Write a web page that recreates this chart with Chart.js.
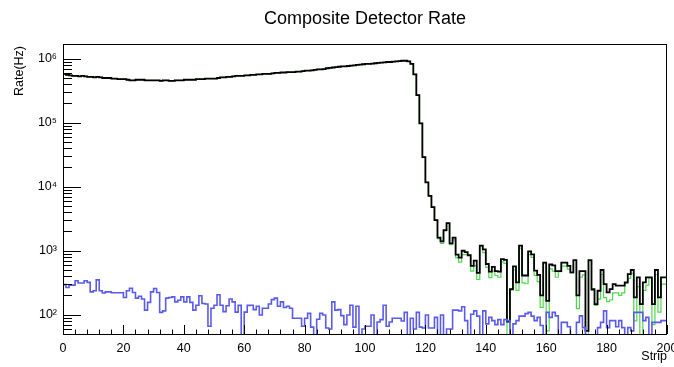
<!DOCTYPE html>
<html>
<head>
<meta charset="utf-8">
<script src="https://cdn.jsdelivr.net/npm/chart.js@4/dist/chart.umd.min.js"></script>
<style>
  html, body { margin: 0; padding: 0; background: #fff; }
  #wrap { width: 674px; height: 367px; position: relative; }
</style>
</head>
<body>
<div id="wrap"><canvas id="myChart"></canvas></div>
<script>
// rate per strip, one value per bin (strip 0..199); 40 = empty bin (below axis)
var totalRate = [
    40, 580000, 560000, 550000, 540000, 540000, 530000, 540000, 530000, 520000,
    520000, 510000, 520000, 510000, 500000, 500000, 500000, 490000, 490000, 480000,
    480000, 480000, 470000, 460000, 460000, 470000, 470000, 470000, 460000, 460000,
    460000, 460000, 460000, 450000, 460000, 460000, 450000, 450000, 460000, 460000,
    460000, 470000, 470000, 470000, 470000, 480000, 480000, 480000, 490000, 490000,
    490000, 490000, 500000, 510000, 510000, 520000, 520000, 530000, 540000, 540000,
    540000, 550000, 550000, 560000, 560000, 570000, 570000, 580000, 580000, 580000,
    590000, 600000, 600000, 610000, 610000, 620000, 620000, 620000, 630000, 630000,
    640000, 650000, 650000, 660000, 670000, 680000, 680000, 690000, 710000, 720000,
    730000, 740000, 750000, 760000, 760000, 770000, 780000, 790000, 800000, 810000,
    820000, 830000, 830000, 840000, 850000, 860000, 870000, 880000, 890000, 890000,
    900000, 910000, 920000, 930000, 930000, 910000, 830000, 570000, 270000, 98000,
    29000, 11700, 7200, 4800, 3000, 1600, 1400, 2100, 2700, 1300,
    1600, 870, 780, 1000, 950, 850, 580, 700, 450, 1200,
    1050, 620, 470, 560, 480, 470, 740, 720, 78, 250,
    570, 320, 1200, 410, 410, 980, 880, 490, 420, 200,
    650, 165, 610, 590, 480, 480, 650, 650, 580, 460,
    715, 200, 480, 480, 56, 715, 250, 147, 237, 500,
    300, 224, 252, 300, 284, 284, 284, 320, 432, 500,
    187, 383, 147, 320, 383, 383, 147, 500, 187, 383
];

var greenRate = [
    40, 580000, 560000, 550000, 540000, 540000, 530000, 540000, 530000, 520000,
    520000, 510000, 520000, 510000, 500000, 500000, 500000, 490000, 490000, 480000,
    480000, 480000, 470000, 460000, 460000, 470000, 470000, 470000, 460000, 460000,
    460000, 460000, 460000, 450000, 460000, 460000, 450000, 450000, 460000, 460000,
    460000, 470000, 470000, 470000, 470000, 480000, 480000, 480000, 490000, 490000,
    490000, 490000, 500000, 510000, 510000, 520000, 520000, 530000, 540000, 540000,
    540000, 550000, 550000, 560000, 560000, 570000, 570000, 580000, 580000, 580000,
    590000, 600000, 600000, 610000, 610000, 620000, 620000, 620000, 630000, 630000,
    640000, 650000, 650000, 660000, 670000, 680000, 680000, 690000, 710000, 720000,
    730000, 740000, 750000, 760000, 760000, 770000, 780000, 790000, 800000, 810000,
    820000, 830000, 830000, 840000, 850000, 860000, 870000, 880000, 890000, 890000,
    900000, 910000, 920000, 930000, 930000, 910000, 830000, 570000, 270000, 98000,
    29000, 11700, 7200, 4800, 3000, 1550, 1300, 2050, 2640, 1240,
    1480, 780, 665, 870, 870, 850, 480, 585, 355, 1200,
    935, 550, 380, 480, 410, 385, 670, 635, 40, 250,
    500, 240, 1100, 315, 305, 870, 785, 410, 330, 130,
    650, 56, 520, 480, 385, 470, 575, 575, 515, 450,
    700, 125, 385, 420, 40, 700, 240, 140, 175, 425,
    185, 160, 170, 220, 220, 200, 220, 310, 370, 445,
    80, 275, 40, 240, 290, 375, 70, 425, 110, 300
];

var blueRate = [
    40, 295, 267, 290, 290, 339, 313, 313, 339, 320,
    228, 237, 350, 237, 218, 228, 228, 220, 220, 220,
    220, 186, 237, 260, 223, 182, 194, 176, 118, 156,
    228, 257, 223, 109, 115, 182, 186, 190, 159, 168,
    190, 159, 190, 156, 118, 141, 198, 150, 147, 66,
    126, 141, 205, 141, 112, 138, 176, 159, 110, 140,
    40, 110, 140, 141, 120, 136, 99, 126, 126, 147,
    172, 182, 136, 159, 130, 136, 126, 88, 88, 88,
    66, 88, 105, 64, 40, 85, 105, 99, 62, 60,
    159, 118, 120, 97, 70, 99, 141, 64, 136, 40,
    60, 66, 66, 99, 40, 77, 84, 141, 66, 77,
    88, 88, 88, 80, 109, 40, 88, 60, 109, 64,
    62, 99, 62, 62, 91, 40, 99, 40, 60, 60,
    118, 118, 115, 133, 81, 40, 102, 115, 95, 40,
    115, 72, 91, 81, 70, 84, 70, 84, 81, 40,
    72, 81, 95, 95, 104, 109, 95, 81, 91, 68,
    40, 109, 91, 109, 96, 40, 76, 76, 65, 40,
    40, 76, 96, 63, 40, 40, 40, 40, 63, 76,
    115, 63, 81, 81, 65, 81, 63, 40, 63, 56,
    109, 109, 109, 81, 91, 40, 76, 76, 76, 81
];

var xTickLabels = [0, 20, 40, 60, 80, 100, 120, 140, 160, 180, 200];
var yDecades = [100, 1000, 10000, 100000, 1000000];
var yMin = 50, yMax = 1.7e6;
var nStrips = 200;

var sup = {'0':'\u2070','1':'\u00b9','2':'\u00b2','3':'\u00b3','4':'\u2074','5':'\u2075','6':'\u2076','7':'\u2077','8':'\u2078','9':'\u2079'};

// bin i drawn from x=i to x=i+1, plus closing point at the upper edge
function histPoints(vals) {
    var pts = [];
    for (var i = 0; i < vals.length; i++) pts.push({x: i, y: vals[i]});
    pts.push({x: vals.length, y: vals[vals.length - 1]});
    return pts;
}

var rootFrame = {
    id: 'rootFrame',
    afterDraw: function(chart) {
        var ctx = chart.ctx, a = chart.chartArea;
        var xs = chart.scales.x, ys = chart.scales.y;
        ctx.save();
        ctx.strokeStyle = '#000';
        ctx.lineWidth = 1;
        ctx.strokeRect(Math.round(a.left) + 0.5, Math.round(a.top) + 0.5,
                       Math.round(a.right - a.left) - 1, Math.round(a.bottom - a.top));
        ctx.beginPath();
        // x ticks, inward
        for (var v = 0; v <= nStrips; v += 4) {
            var px = Math.round(xs.getPixelForValue(v)) + 0.5;
            var len = (v % 20 === 0) ? 9 : 4.5;
            ctx.moveTo(px, a.bottom);
            ctx.lineTo(px, a.bottom - len);
        }
        // y ticks, inward
        for (var d = 10; d <= 1e6; d *= 10) {
            for (var m = 1; m <= 9; m++) {
                var val = m * d;
                if (val < yMin || val > yMax) continue;
                var py = Math.round(ys.getPixelForValue(val)) + 0.5;
                var l = (m === 1) ? 18 : 9;
                ctx.moveTo(a.left, py);
                ctx.lineTo(a.left + l, py);
            }
        }
        ctx.stroke();

        ctx.fillStyle = '#000';
        ctx.font = '18px "Liberation Sans", Arial, sans-serif';
        ctx.textAlign = 'center';
        ctx.textBaseline = 'middle';
        ctx.fillText('Composite Detector Rate', (a.left + a.right) / 2, 19);

        ctx.font = '12.5px "Liberation Sans", Arial, sans-serif';
        ctx.textAlign = 'right';
        ctx.fillText('Strip', a.right, 357);

        ctx.translate(20, a.top + 2);
        ctx.rotate(-Math.PI / 2);
        ctx.textAlign = 'right';
        ctx.fillText('Rate(Hz)', 0, 0);
        ctx.restore();
    }
};

var config = {
    type: 'line',
    data: {
        datasets: [
            {label: 'blue', data: histPoints(blueRate), borderColor: 'rgb(90, 90, 235)', borderWidth: 1.6},
            {label: 'total', data: histPoints(totalRate), borderColor: '#000', borderWidth: 1.8},
            {label: 'green', data: histPoints(greenRate), borderColor: 'rgb(80, 215, 80)', borderWidth: 1.2}
        ]
    },
    options: {
        responsive: false,
        animation: false,
        layout: {padding: {top: 44, right: 7, left: 0, bottom: 0}},
        elements: {
            point: {radius: 0},
            line: {stepped: 'after', tension: 0, fill: false}
        },
        plugins: {legend: {display: false}, tooltip: {enabled: false}, title: {display: false}},
        scales: {
            x: {
                type: 'linear', min: 0, max: nStrips,
                grid: {display: false, drawTicks: false},
                border: {display: false},
                afterBuildTicks: function(s) { s.ticks = xTickLabels.map(function(v) { return {value: v}; }); },
                afterFit: function(s) { s.height = 33; s.paddingLeft = 0; s.paddingRight = 0; },
                ticks: {
                    padding: 7, color: '#000', maxRotation: 0, autoSkip: false,
                    font: {family: '"Liberation Sans", Arial, sans-serif', size: 12.5}
                }
            },
            y: {
                type: 'logarithmic', min: yMin, max: yMax,
                grid: {display: false, drawTicks: false},
                border: {display: false},
                afterBuildTicks: function(s) { s.ticks = yDecades.map(function(v) { return {value: v}; }); },
                afterFit: function(s) { s.width = 63; s.paddingTop = 0; s.paddingBottom = 0; },
                ticks: {
                    padding: 6, color: '#000',
                    font: {family: '"Liberation Sans", Arial, sans-serif', size: 12.5},
                    callback: function(v) {
                        var e = String(Math.round(Math.log10(v)));
                        return '10' + e.split('').map(function(c) { return sup[c]; }).join('');
                    }
                }
            }
        }
    },
    plugins: [rootFrame]
};

var canvas = document.getElementById('myChart');
canvas.width = 674;
canvas.height = 367;
var myChart = new Chart(canvas, config);
</script>
</body>
</html>
